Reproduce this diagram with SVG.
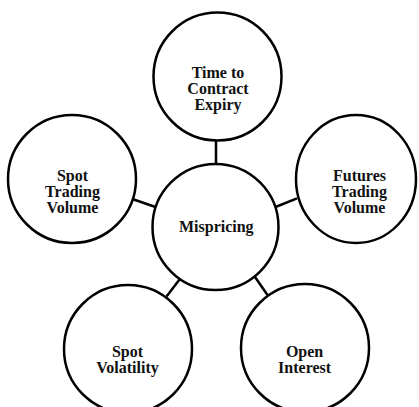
<svg xmlns="http://www.w3.org/2000/svg" width="419" height="407" viewBox="0 0 419 407">
<style>
.n{fill:#fff;stroke:#000;stroke-width:2.5}
.c{stroke:#000;stroke-width:2.5;fill:none}
text{font-family:"Liberation Serif","Times New Roman",serif;font-weight:bold;font-size:16px;fill:#111;text-anchor:middle}
</style>
<rect width="419" height="407" fill="#fff"/>
<g id="connectors">
<line class="c" x1="216" y1="140" x2="216" y2="164.5"/>
<line class="c" x1="133" y1="199.3" x2="155.5" y2="207"/>
<line class="c" x1="275.5" y1="207" x2="297" y2="198.3"/>
<line class="c" x1="166.5" y1="296.5" x2="179.5" y2="279.5"/>
<line class="c" x1="255" y1="277" x2="267.5" y2="295"/>
</g>
<g id="time">
<circle class="n" cx="217.5" cy="76.5" r="64"/>
<text x="218" y="78">Time to</text>
<text x="218" y="94">Contract</text>
<text x="218" y="110">Expiry</text>
</g>
<g id="spot-volume">
<circle class="n" cx="72" cy="179" r="64"/>
<text x="72.5" y="180.5">Spot</text>
<text x="72.5" y="196.5">Trading</text>
<text x="72.5" y="212.5">Volume</text>
</g>
<g id="futures-volume">
<ellipse class="n" cx="356" cy="179" rx="60" ry="64"/>
<text x="359.5" y="180.5">Futures</text>
<text x="359.5" y="196.5">Trading</text>
<text x="359.5" y="212.5">Volume</text>
</g>
<g id="mispricing">
<circle class="n" cx="215.5" cy="227" r="63"/>
<text x="216.3" y="231.5">Mispricing</text>
</g>
<g id="spot-volatility">
<circle class="n" cx="128" cy="349" r="64"/>
<text x="127.5" y="357.3">Spot</text>
<text x="127.5" y="373">Volatility</text>
</g>
<g id="open-interest">
<circle class="n" cx="305" cy="348" r="64"/>
<text x="304.6" y="357.3">Open</text>
<text x="304.6" y="373">Interest</text>
</g>
</svg>
